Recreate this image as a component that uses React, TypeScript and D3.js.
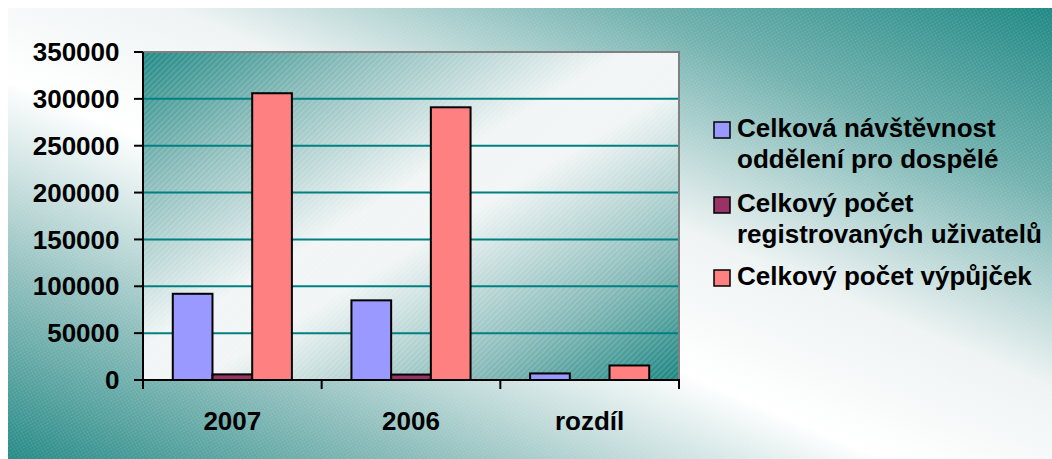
import React from "react";
import * as d3 from "d3";

const categories = ["2007", "2006", "rozdíl"];
const seriesKeys = ["navstevnost", "uzivatele", "vypujcky"];
const seriesLabels = [
  ["Celková návštěvnost", "oddělení pro dospělé"],
  ["Celkový počet", "registrovaných uživatelů"],
  ["Celkový počet výpůjček"],
];
const seriesColors = ["#9999FF", "#993366", "#FF8080"];
const navstevnost = [92000, 85000, 7000];
const uzivatele = [6000, 5800, 0];
const vypujcky = [306000, 291000, 15500];
const seriesValues = [navstevnost, uzivatele, vypujcky];
const yTicks = [0, 50000, 100000, 150000, 200000, 250000, 300000, 350000];

const W = 1044;
const H = 451;
const OFF = 8; // page offset (body margin)
const plot = { left: 143, right: 679, top: 52, bottom: 380 };
const FONT = "'Liberation Sans', Arial, Helvetica, sans-serif";

export default function App() {
  const y = d3.scaleLinear().domain([0, 350000]).range([plot.bottom, plot.top]);
  const x0 = d3
    .scaleBand<string>()
    .domain(categories)
    .range([plot.left, plot.right])
    .paddingInner(0)
    .paddingOuter(0);
  const bw = x0.bandwidth();
  const gap = (bw * 1.5) / 4.5;
  const x1 = d3
    .scaleBand<string>()
    .domain(seriesKeys)
    .range([gap / 2, bw - gap / 2])
    .padding(0);

  const legendX = 714;
  const markerSize = 16;
  const textX = 737;
  const lineH = 31;
  const entryStarts = [137, 212, 285];

  return (
    <svg
      width={W}
      height={H}
      style={{ position: "absolute", left: OFF, top: OFF, display: "block" }}
      fontFamily={FONT}
    >
      <defs>
        <linearGradient id="outerGrad" x1="1" y1="0" x2="0" y2="1">
          <stop offset="0" stopColor="#1e8884" />
          <stop offset="0.2" stopColor="#6fb0ad" />
          <stop offset="0.42" stopColor="#eef3f3" />
          <stop offset="0.58" stopColor="#ffffff" />
          <stop offset="0.8" stopColor="#8cbdbb" />
          <stop offset="1" stopColor="#258a86" />
        </linearGradient>
        <linearGradient id="plotGrad" x1="0" y1="0" x2="1" y2="1">
          <stop offset="0" stopColor="#1f8884" />
          <stop offset="0.2" stopColor="#86bab8" />
          <stop offset="0.45" stopColor="#f1f5f5" />
          <stop offset="0.55" stopColor="#f1f5f5" />
          <stop offset="0.8" stopColor="#86bab8" />
          <stop offset="1" stopColor="#1a8480" />
        </linearGradient>
        <pattern
          id="hatch"
          width="4"
          height="4"
          patternUnits="userSpaceOnUse"
          patternTransform="rotate(-45)"
        >
          <line x1="0" y1="1" x2="4" y2="1" stroke="#ffffff" strokeWidth="1" strokeOpacity="0.25" />
        </pattern>
        <pattern id="dots" width="3" height="3" patternUnits="userSpaceOnUse" patternTransform="rotate(-30)">
          <rect x="0" y="0" width="1.5" height="1.5" fill="#ffffff" fillOpacity="0.15" />
        </pattern>
      </defs>
      <g transform={`translate(${-OFF},${-OFF})`}>
        {/* background */}
        <rect x={OFF} y={OFF} width={W} height={H} fill="url(#outerGrad)" />
        <rect x={OFF} y={OFF} width={W} height={H} fill="url(#dots)" />

        {/* plot area */}
        <rect
          x={plot.left}
          y={plot.top}
          width={plot.right - plot.left}
          height={plot.bottom - plot.top}
          fill="url(#plotGrad)"
        />
        <rect
          x={plot.left}
          y={plot.top}
          width={plot.right - plot.left}
          height={plot.bottom - plot.top}
          fill="url(#hatch)"
        />

        {/* gridlines */}
        {yTicks
          .filter((t) => t > 0 && t < 350000)
          .map((t) => (
            <line
              key={t}
              x1={plot.left}
              x2={plot.right}
              y1={y(t)}
              y2={y(t)}
              stroke="#008080"
              strokeWidth={2}
            />
          ))}
        {/* top/right border */}
        <path
          d={`M${plot.left},${plot.top}H${plot.right}V${plot.bottom}`}
          fill="none"
          stroke="#808080"
          strokeWidth={2}
        />

        {/* bars */}
        {categories.map((c, ci) => (
          <g key={c} transform={`translate(${x0(c)},0)`}>
            {seriesKeys.map((k, si) => {
              const v = seriesValues[si][ci];
              if (v <= 0) return null;
              return (
                <rect
                  key={k}
                  x={x1(k)}
                  y={y(v)}
                  width={x1.bandwidth()}
                  height={y(0) - y(v)}
                  fill={seriesColors[si]}
                  stroke="#000"
                  strokeWidth={2}
                />
              );
            })}
          </g>
        ))}

        {/* axes */}
        <line x1={plot.left} x2={plot.left} y1={plot.top} y2={plot.bottom} stroke="#000" strokeWidth={2} />
        <line x1={plot.left - 1} x2={plot.right + 1} y1={plot.bottom} y2={plot.bottom} stroke="#000" strokeWidth={2} />
        {yTicks.map((t) => (
          <g key={t}>
            <line x1={plot.left - 9} x2={plot.left} y1={y(t)} y2={y(t)} stroke="#000" strokeWidth={2} />
            <text
              x={119.5}
              y={y(t)}
              dy="0.35em"
              textAnchor="end"
              fontSize={26}
              fontWeight="bold"
              fill="#000"
            >
              {t}
            </text>
          </g>
        ))}
        {[...categories.map((c) => x0(c) as number), plot.right].map((xv, i) => (
          <line key={i} x1={xv} x2={xv} y1={plot.bottom} y2={plot.bottom + 9} stroke="#000" strokeWidth={2} />
        ))}
        {categories.map((c) => (
          <text
            key={c}
            x={(x0(c) as number) + bw / 2}
            y={430}
            textAnchor="middle"
            fontSize={26}
            fontWeight="bold"
            fill="#000"
          >
            {c}
          </text>
        ))}

        {/* legend */}
        {seriesLabels.map((lines, i) => (
          <g key={i}>
            <rect
              x={legendX}
              y={entryStarts[i] - 15}
              width={markerSize}
              height={markerSize}
              fill={seriesColors[i]}
              stroke="#000"
              strokeWidth={1.5}
            />
            {lines.map((ln, j) => (
              <text
                key={j}
                x={textX}
                y={entryStarts[i] + j * lineH}
                fontSize={26}
                fontWeight="bold"
                fill="#000"
              >
                {ln}
              </text>
            ))}
          </g>
        ))}
      </g>
    </svg>
  );
}
